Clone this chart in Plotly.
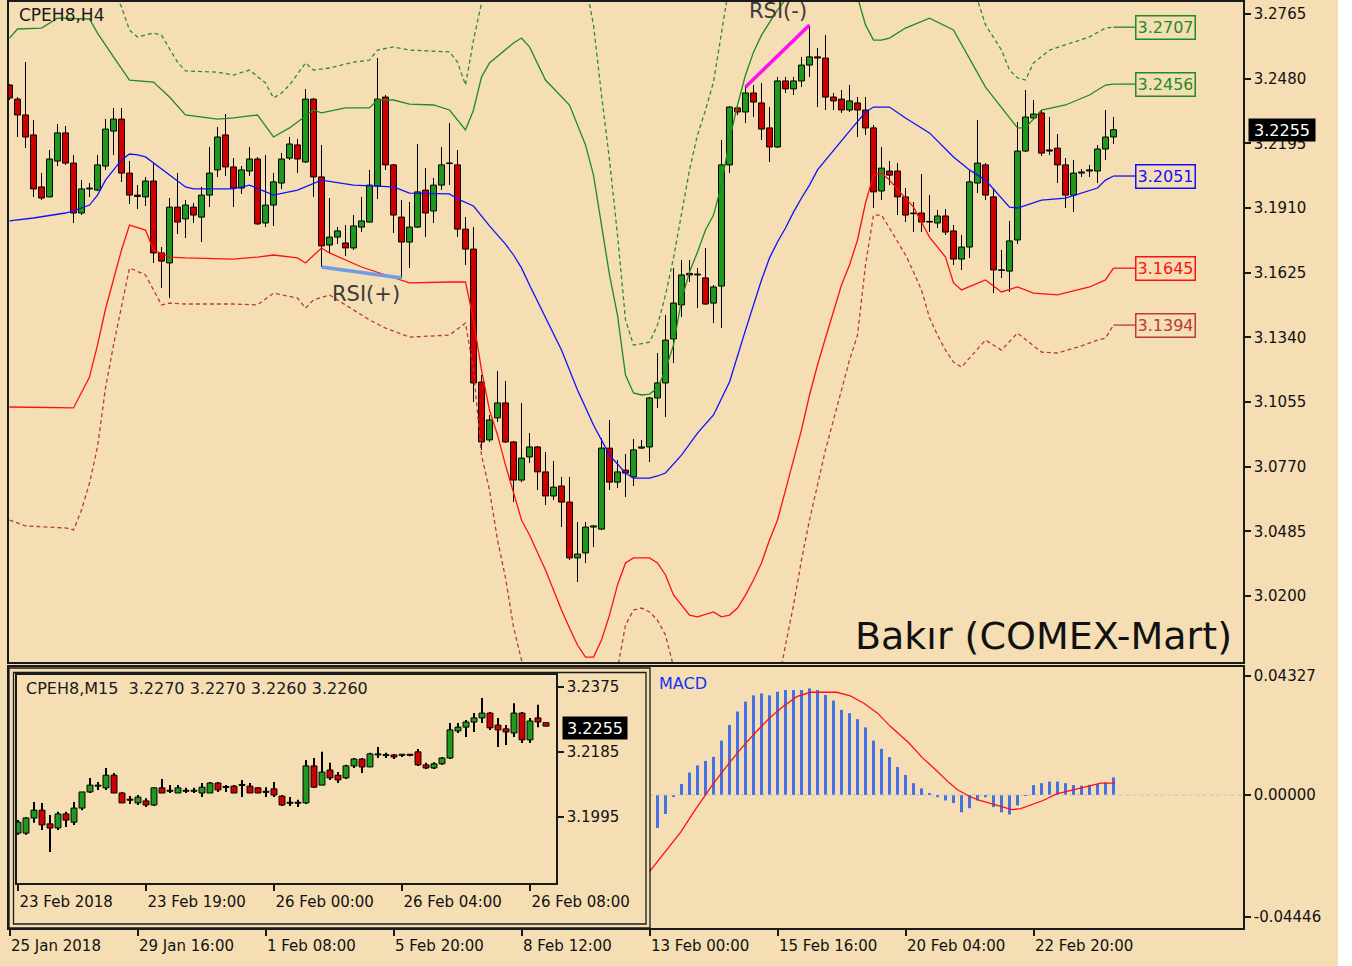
import plotly.graph_objects as go

W, H = 1352, 966
BG = "#F5DEB3"
FONT = "DejaVu Sans"

# ---------------- Main H4 candles (CPEH8,H4) ----------------
h4_open = [3.2452,3.2390,3.2320,3.2232,3.2003,3.1959,3.2117,3.2241,3.2108,3.1888,
           3.1994,3.1989,3.2095,3.2249,3.2302,3.2064,3.1967,3.1959,3.2029,3.1712,
           3.1668,3.1914,3.1862,3.1914,3.1870,3.1967,3.2078,3.2232,3.2091,3.1998,
           3.2073,3.2126,3.1844,3.1923,3.2020,3.2130,3.2188,3.2113,3.2390,3.2047,
           3.1747,3.1782,3.1756,3.1734,3.1826,3.1848,3.2007,3.2399,3.2100,3.1870,
           3.1760,3.1826,3.1989,3.1897,3.2011,3.2108,3.2100,3.1817,3.1729,3.1143,
           3.0888,3.0985,3.1051,3.0879,3.0711,3.0813,3.0857,3.0747,3.0641,3.0685,
           3.0614,3.0368,3.0390,3.0504,3.0495,3.0852,3.0702,3.0755,3.0725,3.0852,
           3.0857,3.1073,3.1139,3.1333,3.1483,3.1622,3.1615,3.1602,3.1491,3.1566,
           3.2100,3.2351,3.2333,3.2417,3.2373,3.2263,3.2179,3.2470,3.2435,3.2470,
           3.2540,3.2576,3.2571,3.2399,3.2390,3.2342,3.2373,3.2342,3.2263,3.1985,
           3.2073,3.2073,3.1959,3.1888,3.1888,3.1851,3.1844,3.1875,3.1809,3.1685,
           3.1738,3.2020,3.2100,3.1959,3.1637,3.1632,3.1769,3.2161,3.2307,3.2329,
           3.2166,3.2174,3.2100,3.1967,3.2064,3.2073,3.2073,3.2170,3.2223]
h4_high = [3.2457,3.2399,3.2553,3.2298,3.2064,3.2166,3.2280,3.2271,3.2144,3.2033,
           3.2020,3.2144,3.2302,3.2351,3.2351,3.2117,3.2011,3.2047,3.2108,3.1738,
           3.1954,3.2064,3.1945,3.1932,3.2003,3.2179,3.2267,3.2324,3.2130,3.2095,
           3.2179,3.2135,3.2144,3.2064,3.2152,3.2223,3.2214,3.2435,3.2395,3.2188,
           3.1954,3.1826,3.1835,3.1879,3.1959,3.2078,3.2571,3.2408,3.2104,3.1945,
           3.1936,3.2192,3.2086,3.2042,3.2179,3.2285,3.2166,3.1870,3.1826,3.1174,
           3.0998,3.1192,3.1148,3.0883,3.1051,3.0918,3.0861,3.0835,3.0795,3.0725,
           3.0725,3.0526,3.0526,3.0513,3.0896,3.0976,3.0799,3.0826,3.0892,3.0888,
           3.1077,3.1271,3.1438,3.1646,3.1681,3.1681,3.1646,3.1734,3.1571,3.2210,
           3.2360,3.2368,3.2443,3.2452,3.2461,3.2355,3.2487,3.2487,3.2487,3.2576,
           3.2717,3.2615,3.2672,3.2417,3.2430,3.2452,3.2399,3.2399,3.2276,3.2179,
           3.2117,3.2108,3.1998,3.1936,3.2060,3.1967,3.1901,3.1906,3.1835,3.1791,
           3.2073,3.2298,3.2108,3.1998,3.1725,3.1853,3.2289,3.2430,3.2386,3.2342,
           3.2311,3.2236,3.2130,3.2122,3.2082,3.2100,3.2188,3.2342,3.2311]
h4_low = [3.2386,3.2223,3.2174,3.1959,3.1945,3.1957,3.2095,3.2100,3.1844,3.1879,
          3.1959,3.1985,3.2078,3.2144,3.2025,3.1928,3.1906,3.1919,3.1668,3.1557,
          3.1513,3.1795,3.1778,3.1844,3.1760,3.1914,3.2047,3.2051,3.1914,3.1972,
          3.2051,3.1835,3.1826,3.1831,3.1994,3.2122,3.2064,3.2108,3.1959,3.1650,
          3.1712,3.1751,3.1698,3.1725,3.1804,3.1846,3.1950,3.2078,3.1800,3.1602,
          3.1646,3.1822,3.1782,3.1844,3.1989,3.2011,3.1782,3.1659,3.1055,3.0844,
          3.0879,3.0967,3.0874,3.0614,3.0702,3.0786,3.0667,3.0601,3.0623,3.0504,
          3.0359,3.0262,3.0346,3.0416,3.0491,3.0667,3.0676,3.0636,3.0685,3.0848,
          3.0791,3.1029,3.0989,3.1227,3.1430,3.1584,3.1469,3.1483,3.1403,3.1381,
          3.2064,3.2320,3.2285,3.2311,3.2210,3.2113,3.2174,3.2417,3.2408,3.2443,
          3.2487,3.2355,3.2342,3.2342,3.2329,3.2333,3.2223,3.2232,3.1910,3.1945,
          3.2011,3.1879,3.1848,3.1804,3.1804,3.1804,3.1822,3.1791,3.1659,3.1637,
          3.1690,3.1976,3.1945,3.1535,3.1602,3.1540,3.1751,3.2157,3.2298,3.2139,
          3.2144,3.2020,3.1910,3.1892,3.2047,3.2047,3.2020,3.2122,3.2192]
h4_close = [3.2395,3.2320,3.2223,3.1994,3.1954,3.2126,3.2241,3.2108,3.1888,3.1994,
            3.1998,3.2100,3.2258,3.2302,3.2064,3.1967,3.1961,3.2029,3.1712,3.1676,
            3.1914,3.1848,3.1923,3.1879,3.1967,3.2064,3.2223,3.2091,3.1998,3.2078,
            3.2126,3.1840,3.1923,3.2025,3.2126,3.2192,3.2126,3.2390,3.2047,3.1743,
            3.1782,3.1809,3.1734,3.1831,3.1853,3.2011,3.2390,3.2100,3.1879,3.1760,
            3.1826,3.1981,3.1888,3.2011,3.2100,3.2106,3.1817,3.1729,3.1139,3.0879,
            3.0976,3.1051,3.0879,3.0711,3.0808,3.0857,3.0747,3.0641,3.0680,3.0614,
            3.0368,3.0385,3.0504,3.0509,3.0852,3.0702,3.0747,3.0742,3.0844,3.0857,
            3.1073,3.1139,3.1328,3.1491,3.1615,3.1615,3.1619,3.1487,3.1562,3.2100,
            3.2355,3.2333,3.2417,3.2377,3.2258,3.2179,3.2470,3.2435,3.2470,3.2540,
            3.2576,3.2571,3.2399,3.2382,3.2342,3.2382,3.2342,3.2263,3.1981,3.2086,
            3.2055,3.1959,3.1879,3.1885,3.1848,3.1848,3.1875,3.1804,3.1685,3.1738,
            3.2025,3.2108,3.1967,3.1637,3.1635,3.1765,3.2161,3.2311,3.2324,3.2152,
            3.2161,3.2100,3.1967,3.2064,3.2069,3.2078,3.2170,3.2223,3.2255]

# ---------------- Bollinger-type envelopes (bar index, price) ----------------
mid_i = [0,3,7,8,10,11,12,13,14,15,16,17,18,20,22,23,28,30,32,33,36,38,39,43,48,50,55,56,58,60,
         62,63,64,65,67,69,71,73,75,77,78,80,81,82,84,86,88,90,92,93,94,95,96,97,98,99,100,101,103,105,
         107,108,110,111,112,115,118,120,122,125,126,129,132,136,137,138]
mid_v = [3.1853,3.1866,3.1888,3.1897,3.1923,3.1967,3.2033,3.2078,3.2122,3.2148,3.2144,3.2135,3.2108,3.2055,3.2003,3.1994,3.1994,3.2011,3.1981,3.1967,
         3.1989,3.2020,3.2033,3.2011,3.2003,3.1976,3.1972,3.1950,3.1919,3.1831,3.1751,3.1703,3.1646,3.1571,3.1430,3.1284,3.1108,3.0954,3.0821,3.0742,
         3.0720,3.0720,3.0729,3.0742,3.0821,3.0918,3.0998,3.1143,3.1372,3.1483,3.1593,3.1690,3.1760,3.1822,3.1892,3.1954,3.2011,3.2078,3.2166,3.2249,
         3.2333,3.2355,3.2355,3.2329,3.2307,3.2241,3.2135,3.2078,3.2033,3.1914,3.1910,3.1945,3.1954,3.1998,3.2033,3.2051]

up_i = [0,1,4,6,10,11,13,15,18,20,22,26,28,31,33,35,36,38,39,42,45,46,48,50,53,55,57,58,59,60,
        63,64,65,67,70,72,73,74,75,76,77,78,79,80,81,82,83,84,85,86,87,88,89,90,91,92,93,94,95,96,
        97,99,102,105,106,107,108,109,110,112,115,118,122,126,127,129,132,135,137,138]
up_v = [3.2659,3.2699,3.2703,3.2747,3.2743,3.2681,3.2576,3.2474,3.2465,3.2399,3.2320,3.2302,3.2307,3.2320,3.2223,3.2263,3.2289,3.2342,3.2329,3.2351,
        3.2351,3.2386,3.2386,3.2368,3.2364,3.2342,3.2254,3.2342,3.2487,3.2549,3.2637,3.2659,3.2620,3.2474,3.2364,3.2188,3.2055,3.1835,3.1615,3.1438,
        3.1174,3.1095,3.1086,3.1090,3.1117,3.1196,3.1306,3.1505,3.1628,3.1716,3.1813,3.1879,3.2011,3.2210,3.2364,3.2496,3.2597,3.2672,3.2730,3.2783,
        3.2827,3.2900,3.2940,3.2900,3.2840,3.2717,3.2650,3.2650,3.2659,3.2703,3.2747,3.2695,3.2443,3.2263,3.2263,3.2342,3.2364,3.2408,3.2452,3.2456]

upd_i = [12,14,15,16,18,19,21,22,26,28,30,32,33,34,35,37,38,40,43,45,46,48,50,55,56,57,58,59,60,71,
         72,73,74,75,76,77,78,80,81,82,83,84,85,86,87,88,89,90,120,121,122,124,125,126,127,128,130,133,135,137,138]
upd_v = [3.2950,3.2796,3.2694,3.2664,3.2681,3.2672,3.2553,3.2514,3.2509,3.2496,3.2518,3.2461,3.2395,3.2417,3.2452,3.2549,3.2518,3.2527,3.2553,3.2562,
         3.2606,3.2620,3.2606,3.2598,3.2553,3.2452,3.2650,3.2813,3.2950,3.2950,3.2900,3.2717,3.2408,3.2122,3.1791,3.1417,3.1306,3.1319,3.1394,3.1527,
         3.1690,3.1879,3.2078,3.2232,3.2342,3.2465,3.2695,3.2900,3.2950,3.2827,3.2717,3.2606,3.2518,3.2483,3.2474,3.2549,3.2606,3.2642,3.2664,3.2703,3.2707]

lo_i = [0,8,10,11,12,13,14,15,17,18,20,22,28,31,33,36,37,39,40,44,49,50,55,57,58,59,60,61,62,63,
        64,65,66,67,68,69,70,71,72,73,74,75,76,77,78,80,81,82,83,84,85,86,88,89,90,91,92,93,94,95,
        96,97,98,99,100,101,102,103,104,105,106,107,108,109,110,113,115,117,118,119,122,124,126,128,131,135,137,138]
lo_v = [3.1033,3.1029,3.1165,3.1306,3.1465,3.1593,3.1725,3.1835,3.1813,3.1725,3.1694,3.1690,3.1685,3.1694,3.1703,3.1690,3.1668,3.1734,3.1712,3.1650,
        3.1593,3.1580,3.1584,3.1584,3.1417,3.1196,3.1020,3.0910,3.0777,3.0658,3.0535,3.0469,3.0390,3.0315,3.0227,3.0138,3.0059,2.9984,2.9931,2.9931,
        3.0006,3.0116,3.0249,3.0346,3.0368,3.0368,3.0346,3.0293,3.0205,3.0160,3.0116,3.0108,3.0130,3.0108,3.0116,3.0147,3.0204,3.0271,3.0346,3.0447,
        3.0535,3.0667,3.0799,3.0932,3.1086,3.1218,3.1337,3.1460,3.1571,3.1659,3.1769,3.1932,3.2055,3.2064,3.2033,3.1914,3.1782,3.1694,3.1580,3.1549,
        3.1593,3.1540,3.1562,3.1535,3.1527,3.1562,3.1593,3.1645]

lod_i = [0,2,7,8,9,10,11,12,13,14,15,17,19,20,22,28,31,33,36,37,38,40,42,45,47,50,55,57,58,59,
         60,61,62,63,64,65,70,75,76,77,78,79,80,81,82,83,84,95,96,97,98,99,100,101,102,103,104,105,106,107,
         108,109,110,112,113,114,115,116,117,118,119,120,122,124,126,129,131,134,136,137,138]
lod_v = [3.0535,3.0509,3.0500,3.0491,3.0579,3.0698,3.0857,3.1117,3.1306,3.1483,3.1646,3.1615,3.1483,3.1491,3.1487,3.1487,3.1483,3.1535,3.1513,3.1469,
         3.1505,3.1527,3.1483,3.1417,3.1381,3.1341,3.1350,3.1403,3.1196,3.0821,3.0667,3.0447,3.0280,3.0064,2.9918,2.9800,2.9500,2.9700,2.9880,3.0072,
         3.0138,3.0147,3.0130,3.0094,3.0028,2.9896,2.9750,2.9650,2.9800,2.9984,3.0160,3.0359,3.0535,3.0689,3.0844,3.0976,3.1108,3.1240,3.1350,3.1659,
         3.1879,3.1879,3.1822,3.1703,3.1628,3.1549,3.1426,3.1350,3.1284,3.1231,3.1209,3.1249,3.1328,3.1284,3.1359,3.1275,3.1271,3.1302,3.1328,3.1337,3.1394]

rsi_plus_bars = [39, 49]
rsi_minus_bars = [92, 100]

h4_tick_bars = [0, 16, 32, 48, 64, 80, 96, 112, 128]
h4_tick_text = ["25 Jan 2018", "29 Jan 16:00", "1 Feb 08:00", "5 Feb 20:00", "8 Feb 12:00",
                "13 Feb 00:00", "15 Feb 16:00", "20 Feb 04:00", "22 Feb 20:00"]
h4_price_ticks = [3.2765, 3.2480, 3.2195, 3.1910, 3.1625, 3.1340, 3.1055, 3.0770, 3.0485, 3.0200]
h4_last = 3.2255

# ---------------- MACD ----------------
macd_i = list(range(81, 139))
macd_v = [-0.0120,-0.0069,-0.0005,0.0040,0.0082,0.0108,0.0124,0.0139,0.0198,0.0255,
          0.0304,0.0340,0.0363,0.0370,0.0363,0.0376,0.0382,0.0382,0.0382,0.0388,
          0.0382,0.0364,0.0344,0.0310,0.0298,0.0276,0.0246,0.0198,0.0168,0.0138,
          0.0102,0.0073,0.0043,0.0024,0.0004,-0.0008,-0.0020,-0.0029,-0.0063,-0.0048,
          -0.0020,-0.0008,-0.0044,-0.0063,-0.0071,-0.0038,-0.0002,0.0036,0.0043,0.0049,
          0.0049,0.0043,0.0036,0.0034,0.0037,0.0040,0.0046,0.0064]
sig_i = [80.0,81.6,83.9,85.5,87.8,90.0,91.7,93.4,95.0,96.7,98.4,100.1,103.4,105.1,106.8,108.5,110.1,112.4,
         114.1,115.7,117.4,118.5,120.2,121.3,123.6,125.3,126.4,127.5,129.2,130.9,132.5,134.2,136.4,138.2]
sig_v = [-0.0279,-0.0219,-0.0135,-0.0063,0.0034,0.0118,0.0178,0.0232,0.0280,0.0322,0.0358,0.0374,0.0374,0.0361,
         0.0334,0.0298,0.0250,0.0190,0.0136,0.0094,0.0046,0.0019,-0.0008,-0.0020,-0.0038,-0.0053,-0.0050,-0.0038,
         -0.0020,0.0004,0.0016,0.0028,0.0043,0.0043]
macd_ticks = [0.04327, 0.0, -0.04446]
macd_tick_text = ["0.04327", "0.00000", "-0.04446"]

# ---------------- Inset M15 candles ----------------
m15_open = [3.1948,3.1948,3.1992,3.2015,3.1975,3.1963,3.2004,3.1980,3.2021,3.2068,
            3.2085,3.2080,3.2117,3.2065,3.2045,3.2036,3.2042,3.2030,3.2080,3.2071,
            3.2065,3.2071,3.2070,3.2065,3.2065,3.2094,3.2082,3.2085,3.2088,3.2085,
            3.2080,3.2068,3.2077,3.2056,3.2036,3.2036,3.2036,3.2144,3.2088,3.2132,
            3.2117,3.2109,3.2144,3.2164,3.2141,3.2176,3.2174,3.2176,3.2175,3.2176,
            3.2185,3.2147,3.2138,3.2150,3.2167,3.2246,3.2257,3.2272,3.2284,3.2298,
            3.2263,3.2252,3.2240,3.2298,3.2220,3.2284,3.2270]
m15_high = [3.1986,3.1995,3.2039,3.2036,3.2001,3.2010,3.2010,3.2039,3.2068,3.2109,
            3.2097,3.2138,3.2123,3.2068,3.2056,3.2059,3.2050,3.2082,3.2106,3.2088,
            3.2088,3.2080,3.2080,3.2094,3.2097,3.2097,3.2088,3.2088,3.2103,3.2094,
            3.2082,3.2082,3.2097,3.2059,3.2053,3.2045,3.2161,3.2167,3.2185,3.2153,
            3.2126,3.2147,3.2167,3.2167,3.2182,3.2199,3.2182,3.2179,3.2179,3.2178,
            3.2193,3.2153,3.2155,3.2170,3.2269,3.2269,3.2278,3.2298,3.2342,3.2301,
            3.2284,3.2263,3.2327,3.2301,3.2284,3.2322,3.2270]
m15_low = [3.1943,3.1943,3.1978,3.1957,3.1893,3.1957,3.1966,3.1972,3.2015,3.2065,
           3.2074,3.2074,3.2065,3.2036,3.2033,3.2030,3.2024,3.2027,3.2065,3.2065,
           3.2065,3.2065,3.2065,3.2053,3.2065,3.2068,3.2068,3.2065,3.2053,3.2065,
           3.2065,3.2053,3.2053,3.2027,3.2027,3.2024,3.2033,3.2080,3.2088,3.2103,
           3.2094,3.2106,3.2138,3.2123,3.2141,3.2167,3.2167,3.2164,3.2170,3.2172,
           3.2144,3.2135,3.2135,3.2147,3.2164,3.2240,3.2228,3.2243,3.2269,3.2249,
           3.2199,3.2205,3.2228,3.2211,3.2211,3.2257,3.2260]
m15_close = [3.1980,3.1992,3.2015,3.1972,3.1963,3.2004,3.1986,3.2021,3.2068,3.2088,
             3.2086,3.2117,3.2065,3.2036,3.2044,3.2053,3.2030,3.2080,3.2065,3.2070,
             3.2080,3.2070,3.2071,3.2082,3.2094,3.2074,3.2081,3.2065,3.2087,3.2065,
             3.2065,3.2067,3.2059,3.2030,3.2035,3.2035,3.2144,3.2082,3.2126,3.2109,
             3.2103,3.2144,3.2164,3.2141,3.2179,3.2177,3.2175,3.2170,3.2176,3.2175,
             3.2147,3.2138,3.2150,3.2167,3.2249,3.2257,3.2272,3.2284,3.2298,3.2255,
             3.2249,3.2243,3.2298,3.2220,3.2275,3.2272,3.2260]
m15_tick_bars = [0, 16, 32, 48, 64]
m15_tick_text = ["23 Feb 2018", "23 Feb 19:00", "26 Feb 00:00", "26 Feb 04:00", "26 Feb 08:00"]
m15_price_ticks = [3.2375, 3.2185, 3.1995]
m15_last = 3.2255

# ---------------- helpers ----------------
GREEN_C = "#1F9A1F"
RED_C = "#D00000"


def px(xp):
    return xp / W


def py(yp):
    return 1 - yp / H


def candle_traces(o, h, l, c, xa, ya, min_body):
    idx = list(range(len(o)))
    wick = go.Bar(x=idx, y=[hh - ll for hh, ll in zip(h, l)], base=l, width=0.125,
                  marker=dict(color="black", line=dict(width=0)),
                  xaxis=xa, yaxis=ya, hoverinfo="skip")
    cols = [GREEN_C if cc >= oo else RED_C for oo, cc in zip(o, c)]
    body = go.Bar(x=idx, y=[max(abs(cc - oo), min_body) for oo, cc in zip(o, c)],
                  base=[min(oo, cc) for oo, cc in zip(o, c)], width=0.74,
                  marker=dict(color=cols, line=dict(color="black", width=1)),
                  xaxis=xa, yaxis=ya, hoverinfo="skip")
    return [wick, body]


fig = go.Figure()

for t in candle_traces(h4_open, h4_high, h4_low, h4_close, "x", "y", 0.00025):
    fig.add_trace(t)

band_specs = [
    (upd_i, upd_v, "#2E8B2E", "4px,3px"),
    (lod_i, lod_v, "#B83A3A", "4px,3px"),
    (up_i, up_v, "#1E8C1E", "solid"),
    (lo_i, lo_v, "#FF1010", "solid"),
    (mid_i, mid_v, "#1010FF", "solid"),
]
for bi, bv, col, dash in band_specs:
    fig.add_trace(go.Scatter(x=bi, y=bv, mode="lines", line=dict(color=col, width=1.3, dash=dash),
                             xaxis="x", yaxis="y", hoverinfo="skip"))

fig.add_trace(go.Scatter(x=rsi_plus_bars, y=[h4_low[i] for i in rsi_plus_bars], mode="lines",
                         line=dict(color="#6E9BEA", width=3.5), xaxis="x", yaxis="y", hoverinfo="skip"))
fig.add_trace(go.Scatter(x=rsi_minus_bars, y=[h4_high[i] for i in rsi_minus_bars], mode="lines",
                         line=dict(color="#FF10F0", width=3.5), xaxis="x", yaxis="y", hoverinfo="skip"))

# MACD
fig.add_trace(go.Scatter(x=[sig_i[0], 154.2], y=[0, 0], mode="lines",
                         line=dict(color="#B9C3D6", width=1.2, dash="4px,3px"),
                         xaxis="x2", yaxis="y2", hoverinfo="skip"))
fig.add_trace(go.Bar(x=macd_i, y=macd_v, width=0.38, marker=dict(color="#4472E6", line=dict(width=0)),
                     xaxis="x2", yaxis="y2", hoverinfo="skip"))
fig.add_trace(go.Scatter(x=sig_i, y=sig_v, mode="lines", line=dict(color="#FF1010", width=1.3),
                         xaxis="x2", yaxis="y2", hoverinfo="skip"))

# Inset M15
for t in candle_traces(m15_open, m15_high, m15_low, m15_close, "x3", "y3", 0.0003):
    fig.add_trace(t)

axis_common = dict(showgrid=False, zeroline=False, showline=True, mirror=True, automargin=False,
                   linecolor="#1a1a1a", linewidth=1.5, fixedrange=True,
                   tickfont=dict(family=FONT, size=15, color="#111"))

fig.update_layout(
    width=W, height=H, margin=dict(l=0, r=0, t=0, b=0, pad=0, autoexpand=False),
    paper_bgcolor=BG, plot_bgcolor=BG, showlegend=False, hovermode=False,
    barmode="overlay", font=dict(family=FONT, color="#111"),
    xaxis=dict(domain=[px(9), px(1243)], range=[-0.0625, 154.1875], anchor="y",
               showticklabels=False, ticks="", **axis_common),
    yaxis=dict(domain=[py(662), py(2)], range=[2.99093, 3.28179], anchor="x", side="right",
               tickvals=h4_price_ticks, tickformat=".4f", ticks="outside", ticklen=6,
               tickcolor="#1a1a1a", tickwidth=1.5, **axis_common),
    xaxis2=dict(domain=[px(9), px(1243)], range=[-0.0625, 154.1875], anchor="y2",
                tickvals=h4_tick_bars, ticktext=h4_tick_text, ticks="outside", ticklen=6,
                tickcolor="#1a1a1a", tickwidth=1.5, ticklabelposition="outside right",
                ticklabelstandoff=3, **axis_common),
    yaxis2=dict(domain=[py(928), py(667)], range=[-0.04842, 0.04660], anchor="x2", side="right",
                tickvals=macd_ticks, ticktext=macd_tick_text, ticks="outside", ticklen=6,
                tickcolor="#1a1a1a", tickwidth=1.5, **axis_common),
    xaxis3=dict(domain=[px(17), px(556)], range=[-0.125, 67.25], anchor="y3",
                tickvals=m15_tick_bars, ticktext=m15_tick_text, ticks="outside", ticklen=6,
                tickcolor="#1a1a1a", tickwidth=1.5, ticklabelposition="outside right",
                ticklabelstandoff=4, **axis_common),
    yaxis3=dict(domain=[py(883), py(675)], range=[3.18025, 3.24091], anchor="x3", side="right",
                tickvals=m15_price_ticks, tickformat=".4f", ticks="outside", ticklen=6,
                tickcolor="#1a1a1a", tickwidth=1.5, **axis_common),
)

shapes = [
    dict(type="rect", xref="paper", yref="paper", x0=px(1338), x1=1, y0=0, y1=1,
         fillcolor="white", line=dict(width=0), layer="below"),
    dict(type="rect", xref="paper", yref="paper", x0=px(9), x1=px(650), y0=py(928), y1=py(668),
         line=dict(color="#1a1a1a", width=1.3), layer="above"),
    dict(type="rect", xref="paper", yref="paper", x0=px(13.5), x1=px(646), y0=py(924), y1=py(672.5),
         line=dict(color="#1a1a1a", width=1.3), layer="above"),
]

annotations = []
tag_specs = [
    (upd_v, "#1E8C1E"),
    (up_v, "#1E8C1E"),
    (mid_v, "#1010FF"),
    (lo_v, "#FF1010"),
    (lod_v, "#B83A3A"),
]
for vals, col in tag_specs:
    last = vals[-1]
    shapes.append(dict(type="line", xref="x", yref="y", x0=138, x1=140.7, y0=last, y1=last,
                       line=dict(color=col, width=1.3)))
    annotations.append(dict(xref="paper", yref="y", x=px(1135), y=last, xanchor="left", yanchor="middle",
                            text=f"{last:.4f}", showarrow=False, font=dict(family=FONT, size=16, color=col),
                            bgcolor=BG, bordercolor=col, borderwidth=1.5, borderpad=2, width=54, height=18))

annotations += [
    dict(xref="paper", yref="y", x=px(1248), y=h4_last, xanchor="left", yanchor="middle",
         text=f"{h4_last:.4f}", showarrow=False, font=dict(family=FONT, size=16, color="white"),
         bgcolor="black", borderpad=2, width=62, height=18),
    dict(xref="paper", yref="y3", x=px(562), y=m15_last, xanchor="left", yanchor="middle",
         text=f"{m15_last:.4f}", showarrow=False, font=dict(family=FONT, size=16, color="white"),
         bgcolor="black", borderpad=2, width=60, height=18),
    dict(xref="paper", yref="paper", x=px(17), y=py(15), xanchor="left", yanchor="middle",
         text="CPEH8,H4", showarrow=False, font=dict(family=FONT, size=17, color="#1a1a1a")),
    dict(xref="paper", yref="paper", x=px(366), y=py(294), xanchor="center", yanchor="middle",
         text="RSI(+)", showarrow=False, font=dict(family=FONT, size=21, color="#3a3a3a")),
    dict(xref="paper", yref="paper", x=px(778), y=py(11), xanchor="center", yanchor="middle",
         text="RSI(-)", showarrow=False, font=dict(family=FONT, size=21, color="#3a3a3a")),
    dict(xref="paper", yref="paper", x=px(1234), y=py(636), xanchor="right", yanchor="middle",
         text="Bakır (COMEX-Mart)", showarrow=False, font=dict(family=FONT, size=38, color="#111")),
    dict(xref="paper", yref="paper", x=px(657), y=py(683), xanchor="left", yanchor="middle",
         text="MACD", showarrow=False, font=dict(family=FONT, size=16, color="#1530FF")),
    dict(xref="paper", yref="paper", x=px(24), y=py(688), xanchor="left", yanchor="middle",
         text="CPEH8,M15  3.2270 3.2270 3.2260 3.2260", showarrow=False,
         font=dict(family=FONT, size=16, color="#1a1a1a")),
]

fig.update_layout(shapes=shapes, annotations=annotations)
fig.write_html("out.html")
